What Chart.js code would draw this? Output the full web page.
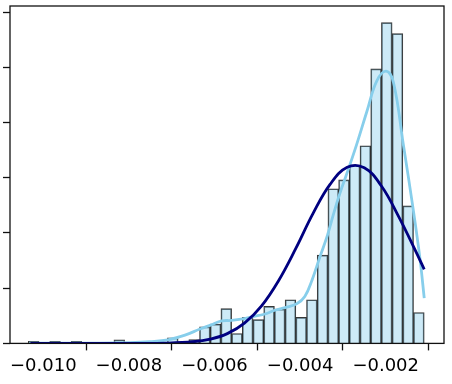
<!DOCTYPE html>
<html lang="en">
    <head>
        <meta charset="UTF-8" />
        <title>Histogram with KDE and normal fit</title>
        <script src="https://cdn.jsdelivr.net/npm/chart.js"></script>
        <style>
            body {
                margin: 0;
                background: white;
            }
        </style>
    </head>
    <body>
        <canvas id="myChart" width="452" height="384"></canvas>

        <script>
            // histogram bins (centres) and density heights
            const binCenters = [
                -0.010225, -0.009975, -0.009725, -0.009475, -0.009225, -0.008975, -0.008725,
                -0.008475, -0.008225, -0.007975, -0.007725, -0.007475, -0.007225, -0.006975,
                -0.006725, -0.006475, -0.006225, -0.005975, -0.005725, -0.005475, -0.005225,
                -0.004975, -0.004725, -0.004475, -0.004225, -0.003975, -0.003725, -0.003475,
                -0.003225, -0.002975, -0.002725, -0.002475, -0.002225, -0.001975, -0.001725,
                -0.001475, -0.001225,
            ]
            const density = [
                3.6, 0, 3.6, 0, 3.6, 0, 0,
                0, 6.5, 0, 0, 0, 0, 10,
                3, 7, 30, 35, 63, 18, 47,
                43, 67, 62, 79, 47, 79, 160,
                280, 296, 323, 358, 497, 581, 561,
                249, 56,
            ]

            // kde curve
            const kdeX = [
                -0.01033, -0.00868, -0.00797, -0.00751, -0.00709, -0.00669, -0.00634, -0.00608,
                -0.00583, -0.0056, -0.00534, -0.0051, -0.00484, -0.00459, -0.00435, -0.00408,
                -0.00389, -0.00372, -0.00354, -0.00336, -0.00322, -0.00307, -0.00287,
                -0.00268, -0.00244, -0.00221, -0.00199, -0.00182, -0.00159, -0.00136, -0.0012,
                -0.0011,
            ]
            const kdeY = [
                0.5, 0.5, 1.4, 3.2, 6.5, 15, 26, 33.5,
                40.7, 41.6, 44.3, 48.6, 52.8, 60, 64.9, 71.7,
                85, 115, 156, 196, 234, 272, 316,
                360, 420, 475, 493, 473, 361, 244, 154,
                82,
            ]

            // normal fit curve
            const normX = [
                -0.0103, -0.0087, -0.0079, -0.0071, -0.0065, -0.0061, -0.0057, -0.0053,
                -0.0049, -0.0045, -0.0041, -0.0037, -0.0033, -0.0029, -0.0025, -0.0021,
                -0.0017, -0.0013, -0.0011,
            ]
            const normY = [
                0, 0, 0.1, 0.6, 3, 7.7, 17.7, 36.7,
                68, 114, 172, 235, 288, 319, 318, 285,
                230, 167, 134,
            ]

            const frame = {
                id: 'frame',
                afterDraw(chart) {
                    const { ctx, chartArea } = chart
                    ctx.save()
                    ctx.strokeStyle = '#111'
                    ctx.lineWidth = 1.3
                    ctx.strokeRect(chartArea.left, chartArea.top, chartArea.width, chartArea.height)
                    ctx.restore()
                },
            }

            const config = {
                type: 'scatter',
                data: {
                    datasets: [
                        {
                            type: 'line',
                            data: normX.map((x, i) => ({ x: x, y: normY[i] })),
                            borderColor: '#000080',
                            borderWidth: 2.8,
                            pointRadius: 0,
                            tension: 0.4,
                            order: 1,
                        },
                        {
                            type: 'line',
                            data: kdeX.map((x, i) => ({ x: x, y: kdeY[i] })),
                            borderColor: '#87ceeb',
                            borderWidth: 2.8,
                            pointRadius: 0,
                            tension: 0.4,
                            order: 2,
                        },
                        {
                            type: 'bar',
                            data: binCenters.map((x, i) => ({ x: x, y: density[i] })),
                            backgroundColor: 'rgba(135, 206, 235, 0.42)',
                            borderColor: 'rgba(20, 20, 20, 0.85)',
                            borderWidth: 1,
                            categoryPercentage: 1,
                            barPercentage: 1,
                            order: 3,
                        },
                    ],
                },
                options: {
                    responsive: false,
                    animation: false,
                    layout: {
                        padding: { left: 3, right: 8, top: 6, bottom: 2 },
                    },
                    scales: {
                        x: {
                            type: 'linear',
                            min: -0.010778,
                            max: -0.000638,
                            offset: false,
                            border: { display: false },
                            grid: {
                                drawOnChartArea: false,
                                drawTicks: true,
                                tickLength: 7,
                                tickColor: '#111',
                                tickWidth: 1.3,
                            },
                            ticks: {
                                stepSize: 0.002,
                                includeBounds: false,
                                autoSkip: false,
                                padding: 5,
                                maxRotation: 0,
                                color: '#000',
                                font: { family: 'DejaVu Sans', size: 18 },
                                callback: (v) => (v < 0 ? '\u2212' : '') + Math.abs(v).toFixed(3),
                            },
                        },
                        y: {
                            min: 0,
                            max: 611,
                            border: { display: false },
                            grid: {
                                drawOnChartArea: false,
                                drawTicks: true,
                                tickLength: 7,
                                tickColor: '#111',
                                tickWidth: 1.3,
                            },
                            ticks: {
                                display: false,
                                stepSize: 100,
                                includeBounds: false,
                            },
                        },
                    },
                    plugins: {
                        legend: { display: false },
                        tooltip: { enabled: false },
                    },
                },
                plugins: [frame],
            }

            const myChart = new Chart(document.getElementById('myChart'), config)
        </script>
    </body>
</html>
